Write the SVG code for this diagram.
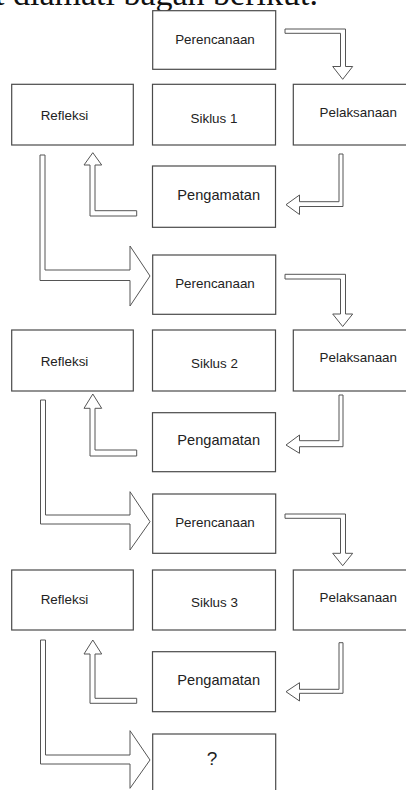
<svg xmlns="http://www.w3.org/2000/svg" width="406" height="790" viewBox="0 0 406 790">
<style>
.bg{fill:#fff}
.box{fill:#fff;stroke:#4a4a4a;stroke-width:1.2}
.lbl{font-family:"Liberation Sans",Arial,sans-serif;font-size:13.4px;fill:#222;text-anchor:middle}
.pg{font-size:14.6px}
.arr{fill:#fff;stroke:#555;stroke-width:1}
.cap{font-family:"Liberation Serif","Times New Roman",serif;font-size:34px;fill:#111}
</style>
<rect class="bg" x="0" y="0" width="406" height="790"/>
<text class="cap" x="-5" y="5">t diamati bagan berikut.</text>

<g id="perencanaan1"><rect class="box" x="152.7" y="10.7" width="123" height="58.6"/><text class="lbl" x="215" y="44">Perencanaan</text></g>
<g id="refleksi1"><rect class="box" x="11.7" y="84.3" width="121.6" height="60.7"/><text class="lbl" x="64.5" y="120">Refleksi</text></g>
<g id="siklus1"><rect class="box" x="152.5" y="84.3" width="123" height="60.7"/><text class="lbl" x="214" y="122.5">Siklus 1</text></g>
<g id="pelaksanaan1"><rect class="box" x="293.3" y="84.3" width="130" height="60.7"/><text class="lbl" x="358.3" y="116.5">Pelaksanaan</text></g>
<g id="pengamatan1"><rect class="box" x="152.5" y="166" width="123" height="61.3"/><text class="lbl pg" x="218.7" y="200">Pengamatan</text></g>

<g id="perencanaan2"><rect class="box" x="152.7" y="255" width="123" height="59.3"/><text class="lbl" x="215" y="288.3">Perencanaan</text></g>
<g id="refleksi2"><rect class="box" x="11.7" y="330" width="121.6" height="61"/><text class="lbl" x="64.5" y="365.7">Refleksi</text></g>
<g id="siklus2"><rect class="box" x="152.5" y="330" width="123" height="61"/><text class="lbl" x="214.5" y="368.3">Siklus 2</text></g>
<g id="pelaksanaan2"><rect class="box" x="293.3" y="330" width="130" height="61"/><text class="lbl" x="358.3" y="361.7">Pelaksanaan</text></g>
<g id="pengamatan2"><rect class="box" x="152.5" y="412.7" width="123" height="59"/><text class="lbl pg" x="218.7" y="445">Pengamatan</text></g>

<g id="perencanaan3"><rect class="box" x="152.7" y="494" width="123" height="59.3"/><text class="lbl" x="215" y="527.3">Perencanaan</text></g>
<g id="refleksi3"><rect class="box" x="11.7" y="570" width="121.6" height="60"/><text class="lbl" x="64.5" y="604.3">Refleksi</text></g>
<g id="siklus3"><rect class="box" x="152.5" y="570" width="123" height="60"/><text class="lbl" x="214.5" y="606.7">Siklus 3</text></g>
<g id="pelaksanaan3"><rect class="box" x="293.3" y="570" width="130" height="60"/><text class="lbl" x="358.3" y="601.7">Pelaksanaan</text></g>
<g id="pengamatan3"><rect class="box" x="152.5" y="651.7" width="123" height="60"/><text class="lbl pg" x="218.7" y="685">Pengamatan</text></g>

<g id="next"><rect class="box" x="152.7" y="734" width="123" height="80"/><text class="lbl" x="212" y="765" style="font-size:19px">?</text></g>

<g id="connectors">
<polygon class="arr" points="285,29 345.5,29 345.5,66.5 352.7,66.5 342.7,79.3 332.7,66.5 340.5,66.5 340.5,33.3 285,33.3"/>
<polygon class="arr" points="339,154 343,154 343,206.5 299.5,206.5 299.5,214.5 286,204.7 299.5,195 299.5,201.7 339,201.7"/>
<polygon class="arr" points="136.7,210.7 95,210.7 95,165 101.7,165 92.8,152.7 84,165 90,165 90,216 136.7,216"/>
<polygon class="arr" points="40,155 45,155 45,270 130,270 130,246 150,276 130,306 130,280.5 40,280.5"/>

<polygon class="arr" points="285,274.3 345.5,274.3 345.5,314 352.7,314 342.7,326.5 332.7,314 340.5,314 340.5,279 285,279"/>
<polygon class="arr" points="339,395 343,395 343,446.7 299.5,446.7 299.5,453.3 286,445 299.5,435 299.5,440.7 339,440.7"/>
<polygon class="arr" points="136.7,450 95,450 95,408.3 101.7,408.3 92.8,394 84,408.3 90,408.3 90,456 136.7,456"/>
<polygon class="arr" points="40.5,400 45.5,400 45.5,515 130,515 130,491.7 150,521.7 130,550 130,524 40.5,524"/>

<polygon class="arr" points="285,514 345.5,514 345.5,553.3 352.7,553.3 342.7,565.7 332.7,553.3 340.5,553.3 340.5,518.3 285,518.3"/>
<polygon class="arr" points="339,642.7 343,642.7 343,693.3 299.5,693.3 299.5,701 286,691.7 299.5,682.7 299.5,689.3 339,689.3"/>
<polygon class="arr" points="136.7,698.3 95,698.3 95,654 101.7,654 92.8,640 84,654 90,654 90,703.3 136.7,703.3"/>
<polygon class="arr" points="40.5,640 45.5,640 45.5,755 130,755 130,730.7 150,760 130,788.3 130,764 40.5,764"/>
</g>
</svg>
